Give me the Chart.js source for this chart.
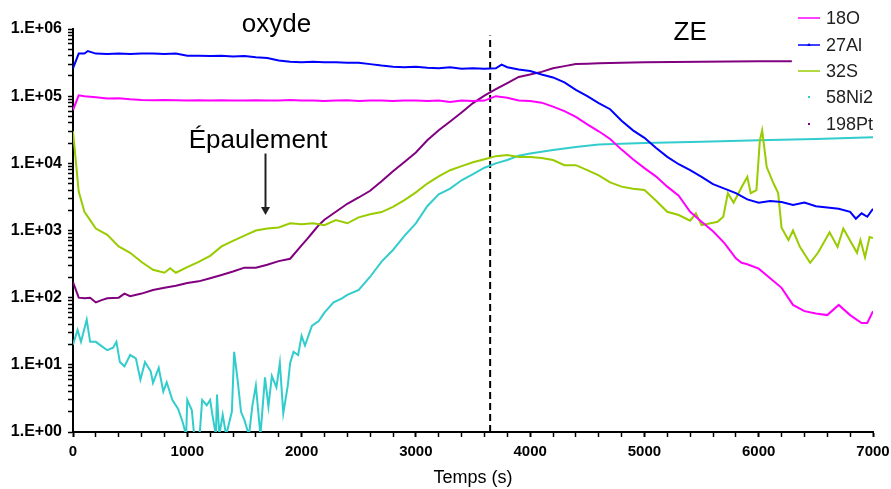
<!DOCTYPE html>
<html>
<head>
<meta charset="utf-8">
<script src="https://cdn.jsdelivr.net/npm/chart.js@4.4.0/dist/chart.umd.min.js"></script>
<style>
  html, body { margin: 0; padding: 0; background: #fff; }
</style>
</head>
<body>
<canvas id="sims" width="891" height="489"></canvas>
<script>
const t18O = [0, 50, 100, 200, 300, 400, 500, 600, 700, 800,
  900, 1000, 1100, 1200, 1300, 1400, 1500, 1600, 1700, 1800,
  1900, 2000, 2100, 2200, 2300, 2400, 2500, 2600, 2700, 2800,
  2900, 3000, 3100, 3200, 3300, 3400, 3500, 3600, 3700, 3800,
  3900, 4000, 4100, 4200, 4300, 4400, 4500, 4600, 4700, 4800,
  4900, 5000, 5100, 5200, 5300, 5400, 5500, 5600, 5700, 5800,
  5850, 5900, 6000, 6100, 6200, 6300, 6400, 6500, 6600, 6700,
  6800, 6900, 6950, 7000];
const v18O = [6.2e4, 1.03e5, 1.0e5, 9.6e4, 9.2e4, 9.3e4, 9.0e4, 8.8e4, 8.7e4, 8.8e4,
  8.7e4, 8.6e4, 8.7e4, 8.6e4, 8.7e4, 8.6e4, 8.6e4, 8.7e4, 8.6e4, 8.6e4,
  8.8e4, 8.6e4, 8.6e4, 8.5e4, 8.6e4, 8.7e4, 8.5e4, 8.6e4, 8.6e4, 8.5e4,
  8.6e4, 8.6e4, 8.5e4, 8.6e4, 8.2e4, 8.6e4, 8.5e4, 8.6e4, 1.0e5, 9.5e4,
  8.6e4, 8.5e4, 8.0e4, 7.0e4, 6.0e4, 4.9e4, 3.8e4, 3.0e4, 2.3e4, 1.6e4,
  1.15e4, 8.5e3, 6.4e3, 4.5e3, 3.3e3, 1.9e3, 1.35e3, 975, 650, 385,
  330, 315, 270, 195, 140, 78, 63, 58, 55, 78,
  55, 42, 42, 63];

const t27Al = [0, 50, 100, 130, 200, 300, 400, 500, 600, 700,
  800, 900, 1000, 1100, 1200, 1300, 1400, 1500, 1600, 1700,
  1800, 1900, 2000, 2100, 2200, 2300, 2400, 2500, 2600, 2700,
  2800, 2900, 3000, 3100, 3200, 3300, 3400, 3500, 3600, 3700,
  3750, 3800, 3900, 4000, 4100, 4200, 4300, 4400, 4500, 4600,
  4700, 4800, 4900, 5000, 5100, 5200, 5300, 5400, 5500, 5600,
  5700, 5800, 5900, 6000, 6100, 6200, 6300, 6400, 6500, 6600,
  6700, 6800, 6850, 6900, 6950, 7000];
const v27Al = [2.6e5, 4.3e5, 4.3e5, 4.7e5, 4.3e5, 4.25e5, 4.3e5, 4.25e5, 4.3e5, 4.3e5,
  4.25e5, 4.3e5, 4.0e5, 4.0e5, 3.95e5, 4.0e5, 3.9e5, 3.95e5, 3.8e5, 3.7e5,
  3.4e5, 3.25e5, 3.2e5, 3.25e5, 3.2e5, 3.2e5, 3.15e5, 3.15e5, 3.0e5, 2.85e5,
  2.75e5, 2.7e5, 2.75e5, 2.65e5, 2.6e5, 2.7e5, 2.55e5, 2.6e5, 2.55e5, 2.6e5,
  2.95e5, 2.7e5, 2.5e5, 2.37e5, 2.1e5, 1.9e5, 1.6e5, 1.24e5, 1.0e5, 7.9e4,
  6.4e4, 4.3e4, 3.1e4, 2.4e4, 1.7e4, 1.25e4, 9.7e3, 7.9e3, 6.3e3, 4.9e3,
  4.2e3, 3.6e3, 2.9e3, 2.6e3, 2.75e3, 2.65e3, 2.4e3, 2.6e3, 2.3e3, 2.2e3,
  2.1e3, 1.9e3, 1.5e3, 1.8e3, 1.6e3, 2.1e3];

const t32S = [0, 50, 100, 150, 200, 300, 400, 500, 600, 700,
  800, 850, 900, 1000, 1100, 1200, 1300, 1400, 1500, 1600,
  1700, 1800, 1900, 2000, 2100, 2200, 2300, 2400, 2500, 2600,
  2700, 2800, 2900, 3000, 3100, 3200, 3300, 3400, 3500, 3600,
  3700, 3800, 3900, 4000, 4100, 4200, 4300, 4400, 4500, 4600,
  4700, 4800, 4900, 5000, 5100, 5200, 5300, 5400, 5450, 5500,
  5600, 5640, 5690, 5730, 5780, 5850, 5900, 5930, 5980, 6010,
  6030, 6070, 6130, 6170, 6200, 6260, 6300, 6360, 6450, 6520,
  6620, 6690, 6740, 6860, 6890, 6930, 6970, 7000];
const v32S = [3.0e4, 3.8e3, 1.9e3, 1.43e3, 1.07e3, 860, 580, 465, 340, 260,
  235, 275, 235, 285, 340, 420, 580, 700, 840, 1000,
  1070, 1110, 1280, 1240, 1280, 1200, 1430, 1280, 1570, 1750,
  1880, 2250, 2840, 3700, 5000, 6400, 7900, 9100, 1.04e4, 1.15e4,
  1.28e4, 1.33e4, 1.24e4, 1.24e4, 1.2e4, 1.12e4, 9.4e3, 9.4e3, 7.9e3, 6.6e3,
  5.2e3, 4.5e3, 4.2e3, 4.0e3, 2.8e3, 1.9e3, 1.7e3, 1.4e3, 1.8e3, 1.2e3,
  1.3e3, 1.35e3, 1.6e3, 3.6e3, 2.6e3, 4.4e3, 6.3e3, 3.6e3, 4.0e3, 2.2e4,
  3.1e4, 8.8e3, 5.0e3, 3.6e3, 1.1e3, 720, 1.0e3, 570, 330, 470,
  940, 570, 1070, 465, 720, 400, 800, 770];

const t58Ni2 = [0, 40, 70, 120, 150, 200, 250, 300, 350, 380,
  410, 450, 500, 550, 590, 630, 680, 700, 750, 790,
  820, 870, 920, 960, 990, 1000, 1040, 1060, 1110, 1130,
  1170, 1200, 1220, 1250, 1260, 1280, 1310, 1340, 1390, 1410,
  1440, 1470, 1500, 1540, 1570, 1600, 1640, 1680, 1710, 1740,
  1780, 1810, 1840, 1880, 1900, 1930, 1970, 2000, 2030, 2090,
  2150, 2200, 2280, 2350, 2400, 2500, 2600, 2700, 2800, 2900,
  3000, 3100, 3200, 3300, 3400, 3500, 3600, 3700, 3800, 3900,
  4000, 4200, 4400, 4600, 4800, 5000, 5500, 6000, 6500, 7000];
const v58Ni2 = [20, 33, 22, 47, 22, 22, 19, 16.5, 18, 22,
  11, 9.5, 14, 12.5, 6, 11, 8, 5.4, 9, 4,
  5.5, 3, 2.2, 1.4, 0.9, 3, 2.1, 0.9, 1, 3,
  2.5, 3, 1.8, 0.9, 3.6, 0.9, 1.8, 0.9, 2, 15.6,
  6, 2, 1.5, 0.9, 2.5, 4.9, 0.9, 6.5, 2.4, 6.8,
  4.6, 10.7, 1.9, 5, 10.7, 15.6, 14, 27, 19.4, 38,
  45, 60, 85, 97, 110, 130, 205, 345, 513, 830,
  1280, 2300, 3450, 4200, 5600, 6900, 8600, 1.0e4, 1.12e4, 1.3e4,
  1.4e4, 1.58e4, 1.75e4, 1.9e4, 1.95e4, 2.0e4, 2.1e4, 2.2e4, 2.3e4, 2.45e4];

const t198Pt = [0, 50, 100, 150, 200, 250, 300, 400, 450, 500,
  600, 700, 800, 900, 1000, 1100, 1200, 1300, 1400, 1500,
  1600, 1700, 1800, 1900, 2000, 2050, 2100, 2150, 2200, 2300,
  2400, 2500, 2600, 2700, 2800, 2900, 3000, 3100, 3200, 3300,
  3400, 3500, 3600, 3700, 3800, 3900, 4000, 4100, 4200, 4300,
  4400, 4500, 4600, 4800, 5000, 5500, 6000, 6290];
const v198Pt = [170, 100, 98, 100, 85, 92, 98, 100, 115, 105,
  115, 130, 140, 150, 165, 175, 195, 218, 245, 280,
  280, 310, 350, 380, 600, 750, 950, 1200, 1450, 1900,
  2500, 3100, 3900, 5400, 7600, 1.05e4, 1.45e4, 2.2e4, 3.1e4, 4.2e4,
  5.7e4, 7.9e4, 1.02e5, 1.27e5, 1.57e5, 1.93e5, 2.1e5, 2.3e5, 2.6e5, 2.8e5,
  3.0e5, 3.05e5, 3.1e5, 3.15e5, 3.2e5, 3.25e5, 3.3e5, 3.3e5];

const interface_t = 3650;
const series = ['18O', '27Al', '32S', '58Ni2', '198Pt'];
const colors = ['#ff00ff', '#0000ff', '#99cc00', '#33cccc', '#800080'];

const pts = (ts, vs) => ts.map((t, i) => ({x: t, y: vs[i]}));
const font = '"Liberation Sans", Arial, sans-serif';

const legendePerso = {
    id: 'legendePerso',
    afterDraw(chart) {
        const ctx = chart.ctx;
        const ys = [18, 45, 71, 97, 124];
        ctx.save();
        ctx.font = '18px ' + font;
        ctx.textBaseline = 'middle';
        ctx.textAlign = 'left';
        series.forEach((s, i) => {
            const y = ys[i];
            ctx.strokeStyle = colors[i];
            ctx.fillStyle = colors[i];
            ctx.lineWidth = 1.5;
            if (i < 3) {
                ctx.beginPath();
                ctx.moveTo(798, y);
                ctx.lineTo(820, y);
                ctx.stroke();
            }
            if (i === 1) {
                ctx.beginPath();
                ctx.moveTo(809, y - 2);
                ctx.lineTo(811, y + 1);
                ctx.lineTo(807, y + 1);
                ctx.fill();
            } else if (i >= 3) {
                ctx.fillRect(808, y - 1, 2, 2);
            }
            ctx.fillStyle = '#222';
            ctx.fillText(s, 826, y + 1);
        });
        ctx.restore();
    }
};

const annotations = {
    id: 'annotations',
    afterDatasetsDraw(chart) {
        const {ctx, scales: {x, y}} = chart;
        ctx.save();
        ctx.fillStyle = '#000';
        ctx.textAlign = 'center';
        ctx.textBaseline = 'alphabetic';
        ctx.font = '26px ' + font;
        ctx.fillText('oxyde', x.getPixelForValue(1780), 32);
        ctx.fillText('ZE', x.getPixelForValue(5400), 40);
        ctx.fillText('Épaulement', x.getPixelForValue(1620), 148);
        // flèche
        const ax = Math.round(x.getPixelForValue(1680)) + 0.5;
        const y0 = y.getPixelForValue(1.4e4);
        const y1 = y.getPixelForValue(1.7e3);
        ctx.strokeStyle = '#222';
        ctx.fillStyle = '#222';
        ctx.lineWidth = 2;
        ctx.beginPath();
        ctx.moveTo(ax, y0);
        ctx.lineTo(ax, y1 - 6);
        ctx.stroke();
        ctx.beginPath();
        ctx.moveTo(ax - 4.5, y1 - 8);
        ctx.lineTo(ax + 4.5, y1 - 8);
        ctx.lineTo(ax, y1);
        ctx.closePath();
        ctx.fill();
        ctx.restore();
    }
};

const datasets = [
    [t18O, v18O], [t27Al, v27Al], [t32S, v32S], [t58Ni2, v58Ni2], [t198Pt, v198Pt]
].map(([ts, vs], i) => ({
    label: series[i],
    data: pts(ts, vs),
    borderColor: colors[i],
    backgroundColor: colors[i],
    borderWidth: 2,
    pointRadius: 0,
    tension: 0
}));

datasets.push({
    label: 'interface',
    data: [{x: interface_t, y: 1}, {x: interface_t, y: 8e5}],
    borderColor: '#000',
    borderWidth: 2,
    borderDash: [7, 4],
    pointRadius: 0
});

new Chart(document.getElementById('sims'), {
    type: 'line',
    data: {datasets},
    options: {
        responsive: false,
        animation: false,
        layout: {padding: {left: 0, right: 18, top: 29, bottom: 0}},
        scales: {
            x: {
                type: 'linear',
                min: 0,
                max: 7000,
                afterBuildTicks: (scale) => {
                    const ticks = [];
                    for (let v = 0; v <= 7000; v += 200) ticks.push({value: v});
                    scale.ticks = ticks;
                },
                afterFit: (scale) => {
                    scale.height = 57;
                    scale.paddingLeft = 0;
                    scale.paddingRight = 0;
                },
                grid: {drawOnChartArea: false, drawTicks: true, tickLength: 5, color: '#000',
                    tickWidth: (c) => (c.tick && c.tick.value % 1000 === 0 ? 2 : 1.5)},
                border: {color: '#000', width: 2},
                ticks: {
                    autoSkip: false,
                    maxRotation: 0,
                    padding: 6,
                    color: '#000',
                    font: {family: font, size: 15, weight: 'bold'},
                    callback: (v) => (v % 1000 === 0 ? String(v) : '')
                },
                title: {
                    display: true,
                    text: 'Temps (s)',
                    color: '#000',
                    font: {family: font, size: 18},
                    padding: {top: 0, bottom: 0}
                }
            },
            y: {
                type: 'logarithmic',
                min: 1,
                max: 1e6,
                afterBuildTicks: (scale) => {
                    const ticks = [];
                    for (let e = 0; e < 6; e++) {
                        for (let m = 1; m < 10; m++) ticks.push({value: m * Math.pow(10, e)});
                    }
                    ticks.push({value: 1e6});
                    scale.ticks = ticks;
                },
                afterFit: (scale) => {
                    scale.width = 73;
                    scale.paddingTop = 0;
                    scale.paddingBottom = 0;
                },
                grid: {drawOnChartArea: false, drawTicks: true, tickLength: 5, color: '#000', tickWidth: 1.5},
                border: {color: '#000', width: 2},
                ticks: {
                    autoSkip: false,
                    padding: 6,
                    color: '#000',
                    font: {family: font, size: 16, weight: 'bold'},
                    callback: (v) => {
                        const e = Math.round(Math.log10(v));
                        return Math.abs(Math.pow(10, e) - v) < 1e-6 * v ? '1.E+' + String(e).padStart(2, '0') : '';
                    }
                }
            }
        },
        plugins: {
            legend: {display: false},
            tooltip: {enabled: false}
        }
    },
    plugins: [annotations, legendePerso]
});
</script>
</body>
</html>
